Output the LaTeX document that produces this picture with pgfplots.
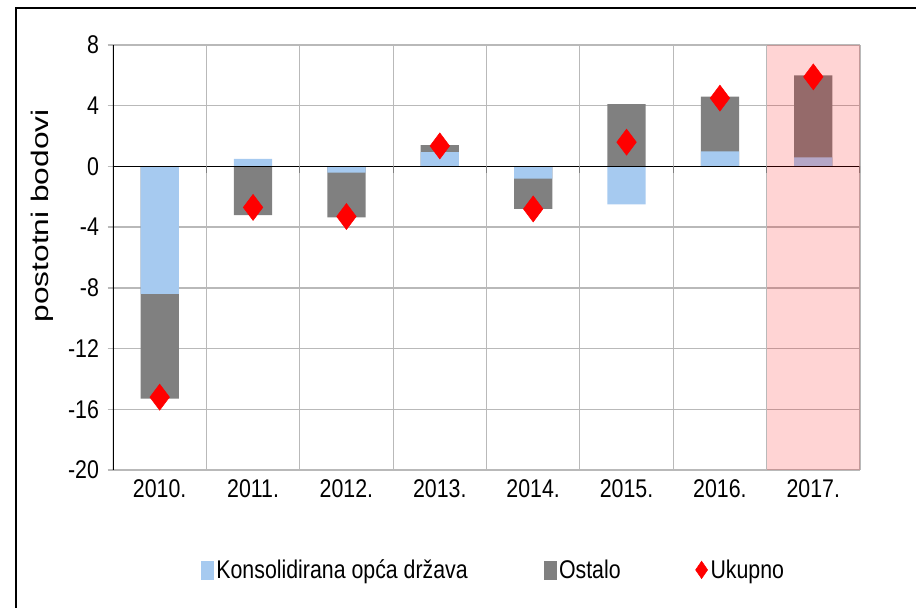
\documentclass[border=0pt]{standalone}
\usepackage{pgfplots}
\pgfplotsset{compat=1.18}
\usepackage{fontspec}
\setmainfont{Liberation Sans}

\definecolor{kons}{RGB}{166,202,240}
\definecolor{ostalo}{RGB}{128,128,128}
\definecolor{gridc}{RGB}{185,185,185}

% the reference text is stretched vertically
\newcommand{\s}[1]{\scalebox{1}[1.2]{#1}}

\begin{document}
\begin{tikzpicture}
\path[use as bounding box] (-84.75pt,-102.75pt) rectangle (602.25pt,352.5pt);
% outer chart frame (only left and top edges are visible)
\draw[line width=1.5pt] (-72.75pt,-110pt) -- (-72.75pt,346.5pt) -- (610pt,346.5pt);
\begin{axis}[
    scale only axis,
    width=560.25pt, height=318.75pt,
    xmin=-0.5, xmax=7.5,
    ymin=-20, ymax=8,
    axis line style={draw=none},
    font=\fontsize{16}{19}\selectfont,
    /pgf/number format/assume math mode=true,
    xtick={0,...,7},
    xticklabels={\s{2010.},\s{2011.},\s{2012.},\s{2013.},\s{2014.},\s{2015.},\s{2016.},\s{2017.}},
    x tick style={draw=none},
    minor xtick={0.5,1.5,...,7.5},
    xminorgrids,
    minor x grid style={gridc, line width=0.8pt},
    ytick={-20,-16,...,8},
    yticklabel={\s{\pgfmathprintnumber{\tick}}},
    yticklabel style={xshift=-3pt},
    ymajorgrids,
    major y grid style={gridc, line width=1pt},
    ytick pos=left,
    tick align=outside,
    major tick length=4pt,
    y tick style={gridc, line width=1pt},
    ylabel={\scalebox{1.32}[1]{postotni bodovi}},
    ylabel style={at={(axis description cs:-0.094,0.598)}, anchor=center,
        font=\fontsize{18}{21}\selectfont},
    legend style={at={(0.51,-0.235)}, anchor=center, draw=none,
        font=\fontsize{16}{19}\selectfont,
        /tikz/every odd column/.style={column sep=0pt},
        /tikz/column 2/.style={column sep=55pt},
        /tikz/column 4/.style={column sep=54pt}},
    legend columns=3,
]
% Ostalo: bar drawn from 0 to the outer end of the stack
\addplot[ybar, bar width=0.41, bar shift=0pt, fill=ostalo, draw=none, forget plot] coordinates {
    (0,-15.3) (1,-3.2) (2,-3.35) (3,1.4) (4,-2.8) (5,4.1) (6,4.6) (7,6.0)
};
% Konsolidirana opca drzava
\addplot[ybar, bar width=0.41, bar shift=0pt, fill=kons, draw=none, forget plot] coordinates {
    (0,-8.4) (1,0.5) (2,-0.4) (3,0.95) (4,-0.8) (5,-2.5) (6,1.0) (7,0.6)
};
% zero line and its tick marks
\addplot[black, line width=1pt, forget plot] coordinates {(-0.5,0) (7.5,0)};
\addplot[ycomb, gray, line width=0.8pt, no marks, forget plot] coordinates {
    (0.5,-0.4) (1.5,-0.4) (2.5,-0.4) (3.5,-0.4) (4.5,-0.4) (5.5,-0.4) (6.5,-0.4) (7.5,-0.4)
};
% left axis line
\addplot[black, line width=1pt, forget plot] coordinates {(-0.5,-20) (-0.5,8)};
% Ukupno
\addplot[only marks, mark=diamond*, mark size=9.75pt, red, forget plot] coordinates {
    (0,-15.2) (1,-2.7) (2,-3.3) (3,1.35) (4,-2.8) (5,1.6) (6,4.5) (7,5.9)
};
% 2017 projection shading
\addplot[fill=red, fill opacity=0.17, draw=none, forget plot] coordinates {
    (6.5,-20) (6.5,8) (7.5,8) (7.5,-20)
};
\addlegendimage{legend image code/.code={\fill[kons] (0pt,-6.75pt) rectangle (9pt,6.75pt);}}
\addlegendimage{legend image code/.code={\fill[ostalo] (0pt,-6.75pt) rectangle (9pt,6.75pt);}}
\addlegendimage{legend image code/.code={\fill[red] (4.5pt,-6.5pt) -- (9pt,0pt) -- (4.5pt,6.5pt) -- (0pt,0pt) -- cycle;}}
\legend{\s{Konsolidirana opća država}, \s{Ostalo}, \s{Ukupno}}
\end{axis}
\end{tikzpicture}
\end{document}
